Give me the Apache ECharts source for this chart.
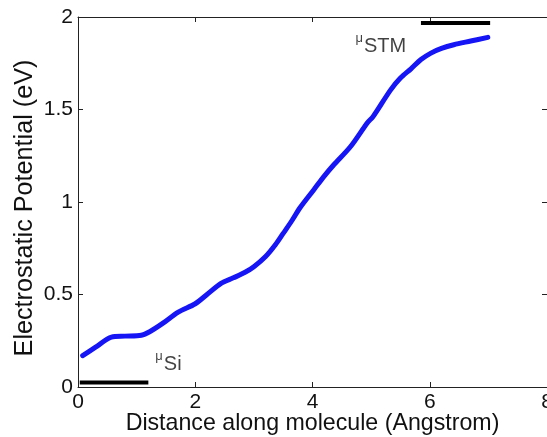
<!DOCTYPE html>
<html>
<head>
<meta charset="utf-8">
<script src="https://cdn.jsdelivr.net/npm/echarts@6/dist/echarts.min.js"></script>
<style>
html,body{margin:0;padding:0;background:#fff;}
#chart{width:547px;height:437px;}
</style>
</head>
<body>
<div id="chart"></div>
<script>
// Potential curve along the molecule
const distance = [0.08,0.3,0.57,0.8,1.08,1.23,1.45,1.71,2.0,2.2,2.44,2.65,2.85,3.0,3.2,3.37,3.5,3.65,3.79,4.02,4.2,4.36,4.65,4.94,5.03,5.33,5.5,5.68,5.85,6.02,6.2,6.41,6.7,6.99];
const potential = [0.17,0.215,0.27,0.275,0.28,0.30,0.345,0.405,0.45,0.50,0.56,0.59,0.62,0.65,0.705,0.77,0.83,0.90,0.97,1.065,1.14,1.20,1.30,1.43,1.46,1.605,1.67,1.72,1.77,1.805,1.83,1.85,1.87,1.89];
// chemical potential levels
const muSiX = [0.03, 1.2];
const muSiY = [0.024, 0.024];
const muStmX = [5.85, 7.03];
const muStmY = [1.968, 1.968];
// annotation anchors (data coords) and texts
const labelX = [1.32, 4.735];
const labelY = [0.2, 1.919];
const labelSub = ['Si', 'STM'];
// axes
const xTicks = [0, 2, 4, 6, 8];
const yTicks = [0, 0.5, 1, 1.5, 2];

const FONT = 'Liberation Sans, Arial, Helvetica, sans-serif';
const zip = (a, b) => a.map((v, i) => [v, b[i]]);

function axis(type, position, showLabels, ticks, extra) {
  const a = {
    type: 'value', position: position,
    min: ticks[0], max: ticks[ticks.length - 1], interval: ticks[1] - ticks[0],
    axisLine: {show: true, onZero: false, lineStyle: {color: '#222', width: 1}},
    axisTick: {show: true, inside: true, length: 5, lineStyle: {color: '#222', width: 1}},
    splitLine: {show: false},
    axisLabel: {show: showLabels, color: '#111', fontSize: 21, fontFamily: FONT, margin: 5, showMaxLabel: true, showMinLabel: true, hideOverlap: false}
  };
  return Object.assign(a, extra || {});
}

const chart = echarts.init(document.getElementById('chart'), null, {renderer: 'canvas'});
chart.setOption({
  animation: false,
  backgroundColor: '#fff',
  grid: {left: 78, top: 17, right: 0, bottom: 50, containLabel: false, outerBoundsMode: 'none'},
  xAxis: [
    axis('x', 'bottom', true, xTicks, {
      name: 'Distance along molecule (Angstrom)', nameLocation: 'middle', nameGap: 25, nameMoveOverlap: false,
      nameTextStyle: {fontSize: 23.2, color: '#111', fontFamily: FONT, verticalAlign: 'top'}
    }),
    axis('x', 'top', false, xTicks)
  ],
  yAxis: [
    axis('y', 'left', true, yTicks, {
      name: 'Electrostatic Potential (eV)', nameLocation: 'middle', nameGap: 40, nameMoveOverlap: false,
      nameTextStyle: {fontSize: 25.2, color: '#111', fontFamily: FONT, padding: [0, 12, 0, 0]}
    }),
    axis('y', 'right', false, yTicks)
  ],
  series: [
    {
      type: 'line', data: zip(distance, potential), smooth: 0.3, showSymbol: false,
      lineStyle: {color: '#1515f5', width: 5, cap: 'round', join: 'round'}
    },
    {
      type: 'line', data: zip(muSiX, muSiY), showSymbol: false,
      lineStyle: {color: '#000', width: 4}
    },
    {
      type: 'line', data: zip(muStmX, muStmY), showSymbol: false,
      lineStyle: {color: '#000', width: 4}
    },
    {
      type: 'scatter', symbolSize: 0.1,
      data: labelX.map((x, i) => ({value: [x, labelY[i]], sub: labelSub[i]})),
      label: {
        show: true, position: [0, 0], align: 'left', verticalAlign: 'top',
        formatter: p => '{mu|μ}{sub|' + p.data.sub + '}',
        rich: {
          mu: {fontSize: 13, color: '#111', fontFamily: FONT, verticalAlign: 'top', lineHeight: 13},
          sub: {fontSize: 20, color: '#111', fontFamily: FONT, lineHeight: 22, padding: [7, 0, 0, 1]}
        }
      }
    }
  ]
});
</script>
</body>
</html>
